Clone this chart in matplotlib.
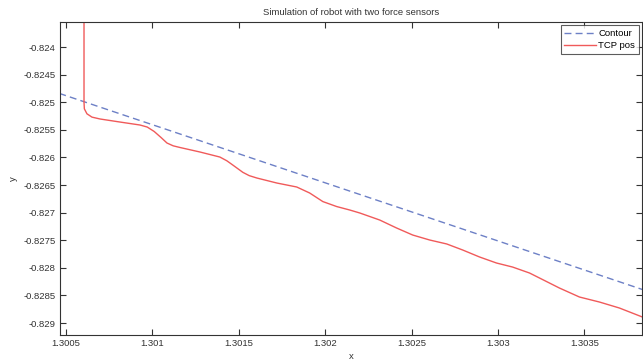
import matplotlib
matplotlib.use("Agg")
import matplotlib.pyplot as plt

# contour (straight reference line)
contour_x = [1.30040, 1.30390]
contour_y = [-0.824776, -0.828461]

# TCP position
tcp_x = [1.300604, 1.300604, 1.300606, 1.300621, 1.300650, 1.300697, 1.300812, 1.300928,
         1.300970, 1.301010, 1.301050, 1.301084, 1.301120, 1.301159, 1.301275, 1.301390,
         1.301430, 1.301465, 1.301523, 1.301560, 1.301604, 1.301720, 1.301835, 1.301910,
         1.301986, 1.302066, 1.302142, 1.302200, 1.302315, 1.302413, 1.302506, 1.302604,
         1.302703, 1.302795, 1.302893, 1.302991, 1.303084, 1.303182, 1.303240, 1.303355,
         1.303471, 1.303587, 1.303702, 1.303835, 1.303900]
tcp_y = [-0.8230, -0.8250, -0.825120, -0.825210, -0.825270, -0.825304, -0.825359, -0.825413,
         -0.825450, -0.825530, -0.825640, -0.825739, -0.825790, -0.825820, -0.825902, -0.825993,
         -0.826060, -0.826138, -0.826270, -0.826330, -0.826373, -0.826464, -0.826536, -0.826645,
         -0.826800, -0.826890, -0.826953, -0.827007, -0.827134, -0.827279, -0.827406, -0.827496,
         -0.827568, -0.827677, -0.827804, -0.827913, -0.827986, -0.828094, -0.828185, -0.828366,
         -0.828529, -0.828620, -0.828728, -0.828891, -0.828950]

xticks = [1.3005, 1.301, 1.3015, 1.302, 1.3025, 1.303, 1.3035]
xlabels = ['1.3005', '1.301', '1.3015', '1.302', '1.3025', '1.303', '1.3035']
yticks = [-0.824, -0.8245, -0.825, -0.8255, -0.826, -0.8265, -0.827,
          -0.8275, -0.828, -0.8285, -0.829]
ylabels = ['-0.824', '-0.8245', '-0.825', '-0.8255', '-0.826', '-0.8265', '-0.827',
           '-0.8275', '-0.828', '-0.8285', '-0.829']

plt.rcParams['font.family'] = ['Liberation Sans', 'DejaVu Sans']
fig = plt.figure(figsize=(6.43, 3.62), dpi=100)
ax = fig.add_axes([0.0933, 0.0746, 0.9057, 0.8646])

ax.plot(contour_x, contour_y, '--', color='#6d80c6', lw=1.0, dashes=(5, 3), label='Contour')
ax.plot(tcp_x, tcp_y, '-', color='#f05a5a', lw=1.0, label='TCP pos')

ax.set_xlim(1.300465, 1.303835)
ax.set_ylim(-0.829217, -0.823547)
ax.set_xticks(xticks)
ax.set_xticklabels(xlabels)
ax.set_yticks(yticks)
ax.set_yticklabels(ylabels)
ax.tick_params(direction='in', length=4, width=0.8, top=True, right=True,
               labelsize=6.8, colors='#333333', pad=3)
for s in ax.spines.values():
    s.set_linewidth(0.8)
    s.set_color('#333333')

ax.set_title('Simulation of robot with two force sensors', fontsize=6.8, color='#333333', pad=5)
ax.set_xlabel('x', fontsize=6.8, color='#333333', labelpad=3)
ax.set_ylabel('y', fontsize=6.8, color='#333333', labelpad=4)

leg = ax.legend(loc='upper right', fontsize=6.8, frameon=True, fancybox=False,
                borderpad=0.4, handlelength=3.3, handletextpad=0.3, borderaxespad=0.35,
                labelspacing=0.35)
leg.get_frame().set_edgecolor('#333333')
leg.get_frame().set_linewidth(0.8)

fig.savefig('out.png', dpi=100)
